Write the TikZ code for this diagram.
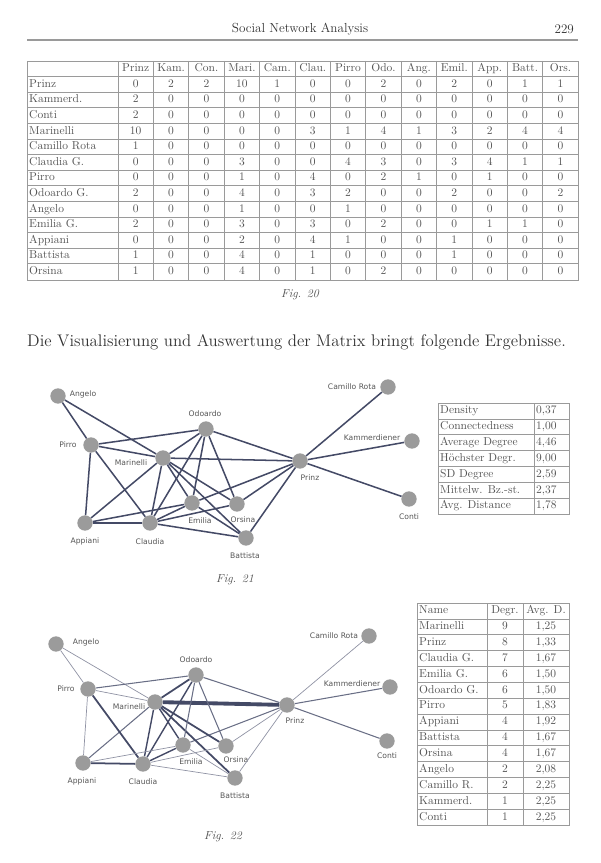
\documentclass[tikz,border=0pt]{standalone}
\usepackage{fontspec}
\setsansfont{DejaVu Sans}

\definecolor{nodegray}{HTML}{9B9B9B}
\definecolor{edgecol}{HTML}{444A66}
\definecolor{lblgray}{HTML}{555555}
\definecolor{tabline}{HTML}{9A9A9A}
\definecolor{tabtext}{HTML}{555555}
\definecolor{bodytext}{HTML}{333333}

\begin{document}
\begin{tikzpicture}[x=0.3mm, y=-0.3mm,
    pnode/.style = {circle, fill=nodegray, minimum size=4.6mm, inner sep=0pt},
    lbl/.style = {font=\sffamily\fontsize{6.5}{7}\selectfont, text=lblgray, inner sep=0pt},
    tab/.style = {font=\fontsize{9.8}{11}\selectfont, text=tabtext, inner sep=0pt,
                  text height=6.8pt, text depth=2pt},
    grid/.style = {draw=tabline, line width=0.6pt},
    link/.style = {draw=edgecol, line width=1.3pt},
    figcap/.style = {font=\fontsize{10}{12}\selectfont\itshape, text=tabtext},
    head/.style = {font=\fontsize{11.2}{13}\selectfont, text=bodytext}]
  \useasboundingbox (0,0) rectangle (600,863);

  % running head
  \node[head] (title) at (300,29) {Social Network Analysis};
  \node[head, anchor=east] (pageno) at (578,29) {229};
  \draw[tabline, line width=0.9pt] (27,40) -- (578,40);

  % adjacency matrix (Fig. 20)
  \draw[grid] (27,61) rectangle (578,280);
  \foreach \r in {1,...,13}
    \draw[grid] (27,{61+15.6*\r}) -- (578,{61+15.6*\r});
  \foreach \k in {0,...,12}
    \draw[grid] ({118+35.4*\k},61) -- ({118+35.4*\k},280);
  \foreach \h [count=\c] in {Prinz,Kam.,Con.,Mari.,Cam.,Clau.,Pirro,Odo.,Ang.,Emil.,App.,Batt.,Ors.}
    \node[tab] (h-\c) at ({118+35.4*\c-17.7},68.8) {\h};
  \foreach \name/\vals [count=\r] in {
      Prinz/{0,2,2,10,1,0,0,2,0,2,0,1,1},
      Kammerd./{2,0,0,0,0,0,0,0,0,0,0,0,0},
      Conti/{2,0,0,0,0,0,0,0,0,0,0,0,0},
      Marinelli/{10,0,0,0,0,3,1,4,1,3,2,4,4},
      Camillo Rota/{1,0,0,0,0,0,0,0,0,0,0,0,0},
      Claudia G./{0,0,0,3,0,0,4,3,0,3,4,1,1},
      Pirro/{0,0,0,1,0,4,0,2,1,0,1,0,0},
      Odoardo G./{2,0,0,4,0,3,2,0,0,2,0,0,2},
      Angelo/{0,0,0,1,0,0,1,0,0,0,0,0,0},
      Emilia G./{2,0,0,3,0,3,0,2,0,0,1,1,0},
      Appiani/{0,0,0,2,0,4,1,0,0,1,0,0,0},
      Battista/{1,0,0,4,0,1,0,0,0,1,0,0,0},
      Orsina/{1,0,0,4,0,1,0,2,0,0,0,0,0}} {
    \node[tab, anchor=west] (r-\r) at (29,{68.8+15.6*\r}) {\name};
    \foreach \v [count=\c] in \vals
      \node[tab] (m-\r-\c) at ({118+35.4*\c-17.7},{68.8+15.6*\r}) {\v};
  }
  \node[figcap] (fig20) at (300,295) {Fig. 20};

  \node[font=\fontsize{14.35}{16}\selectfont, text=bodytext, anchor=west, inner sep=0pt]
    (intro) at (27,342) {Die Visualisierung und Auswertung der Matrix bringt folgende Ergebnisse.};

  % network (Fig. 21)
  \foreach \n/\x/\y/\lx/\ly/\t in {
      ang/58/396/83/394/Angelo, pir/91/445/68/445/Pirro, mar/163/458/131/463/Marinelli,
      odo/206/429/205/414/Odoardo, pri/300/461/310/478/Prinz, cam/388/387/352/387/Camillo Rota,
      kam/412/441/372/438/Kammerdiener, con/409/499/409/517/Conti, app/85/523/85/541/Appiani,
      cla/150/523/150/542/Claudia, emi/192/503/200/521/Emilia, ors/237/504/243/520/Orsina,
      bat/246/538/245/556/Battista} {
    \node[pnode] (a-\n) at (\x,\y) {};
    \node[lbl] (a-\n-l) at (\lx,\ly) {\t};
  }
  \foreach \u/\v in {pri/kam, pri/con, pri/mar, pri/cam, pri/odo, pri/emi, pri/bat, pri/ors,
      mar/cla, mar/pir, mar/odo, mar/ang, mar/emi, mar/app, mar/bat, mar/ors,
      cla/pir, cla/odo, cla/emi, cla/app, cla/bat, cla/ors,
      pir/odo, pir/ang, pir/app, odo/emi, odo/ors, emi/app, emi/bat}
    \draw[link] (a-\u) -- (a-\v);
  \node[figcap] (fig21) at (235,580) {Fig. 21};

  % key figures
  \draw[grid] (438,403) rectangle (569,514);
  \foreach \r in {1,...,6}
    \draw[grid] (438,{403+15.86*\r}) -- (569,{403+15.86*\r});
  \draw[grid] (534,403) -- (534,514);
  \foreach \k/\v [count=\r from 0] in {Density/{0,37}, Connectedness/{1,00},
      Average Degree/{4,46}, Höchster Degr./{9,00}, SD Degree/{2,59},
      Mittelw. Bz.-st./{2,37}, Avg. Distance/{1,78}} {
    \node[tab, anchor=west] (s-\r) at (440,{411+15.86*\r}) {\k};
    \node[tab, anchor=west] (sv-\r) at (536,{411+15.86*\r}) {\v};
  }

  % weighted network (Fig. 22)
  \foreach \n/\x/\y/\lx/\ly/\t in {
      ang/56/644/86/642/Angelo, pir/88/689/66/689/Pirro, mar/155/702/129/707/Marinelli,
      odo/196/675/196/660/Odoardo, pri/287/705/295/721/Prinz, cam/369/636/334/636/Camillo Rota,
      kam/390/687/352/684/Kammerdiener, con/387/741/387/756/Conti, app/83/763/82/781/Appiani,
      cla/143/764/143/782/Claudia, emi/183/745/191/762/Emilia, ors/226/746/236/760/Orsina,
      bat/235/778/235/796/Battista} {
    \node[pnode] (b-\n) at (\x,\y) {};
    \node[lbl] (b-\n-l) at (\lx,\ly) {\t};
  }
  \foreach \u/\v/\w in {pri/kam/2, pri/con/2, pri/mar/10, pri/cam/1, pri/odo/2, pri/emi/2,
      pri/bat/1, pri/ors/1, mar/cla/3, mar/pir/1, mar/odo/4, mar/ang/1, mar/emi/3, mar/app/2,
      mar/bat/4, mar/ors/4, cla/pir/4, cla/odo/3, cla/emi/3, cla/app/4, cla/bat/1, cla/ors/1,
      pir/odo/2, pir/ang/1, pir/app/1, odo/emi/2, odo/ors/2, emi/app/1, emi/bat/1} {
    \pgfmathtruncatemacro\shade{min(100,40+20*\w)}
    \pgfmathsetmacro\lw{0.3+0.3*\w}
    \draw[draw=edgecol!\shade, line width=\lw pt] (b-\u) -- (b-\v);
  }
  \node[figcap] (fig22) at (223,837) {Fig. 22};

  % degree ranking
  \draw[grid] (417,603) rectangle (569,825);
  \foreach \r in {1,...,13}
    \draw[grid] (417,{603+15.86*\r}) -- (569,{603+15.86*\r});
  \draw[grid] (487,603) -- (487,825);
  \draw[grid] (523,603) -- (523,825);
  \foreach \n/\d/\a [count=\r from 0] in {Name/Degr./{Avg. D.}, Marinelli/9/{1,25},
      Prinz/8/{1,33}, Claudia G./7/{1,67}, Emilia G./6/{1,50}, Odoardo G./6/{1,50},
      Pirro/5/{1,83}, Appiani/4/{1,92}, Battista/4/{1,67}, Orsina/4/{1,67},
      Angelo/2/{2,08}, Camillo R./2/{2,25}, Kammerd./1/{2,25}, Conti/1/{2,25}} {
    \node[tab, anchor=west] (k-\r) at (419,{611+15.86*\r}) {\n};
    \node[tab] (kd-\r) at (505,{611+15.86*\r}) {\d};
    \node[tab] (ka-\r) at (546,{611+15.86*\r}) {\a};
  }
\end{tikzpicture}
\end{document}
